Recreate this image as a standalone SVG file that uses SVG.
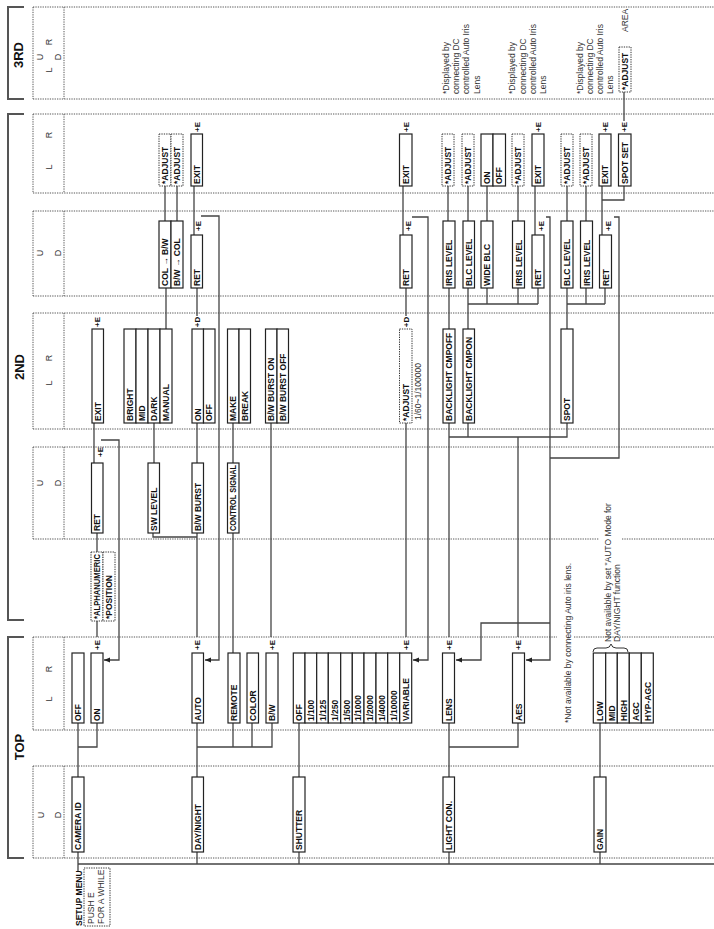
<svg xmlns="http://www.w3.org/2000/svg" width="714" height="929" viewBox="0 0 714 929">
<defs>
<marker id="ah" viewBox="0 0 6 6" refX="6" refY="3" markerWidth="6" markerHeight="6" markerUnits="userSpaceOnUse" orient="auto"><path d="M0,0.6 L6,3 L0,5.4 z" fill="#222"/></marker>
</defs>
<style>
.bx{fill:#fff;stroke:#222;stroke-width:1.2}
.dx{fill:#fff;stroke:#333;stroke-width:1;stroke-dasharray:1.3 1.1}
.t{font-family:"Liberation Sans",Arial,sans-serif;font-weight:bold;font-size:8.5px;fill:#111}
.n{font-family:"Liberation Sans",Arial,sans-serif;font-size:8.5px;fill:#333}
.lbl{font-family:"Liberation Sans",Arial,sans-serif;font-size:9px;fill:#333;text-anchor:middle}
.hd{font-family:"Liberation Sans",Arial,sans-serif;font-weight:bold;font-size:13px;fill:#111;text-anchor:middle}
.pe{font-family:"Liberation Sans",Arial,sans-serif;font-weight:bold;font-size:8px;fill:#111;text-anchor:middle}
.br{fill:none;stroke:#555;stroke-width:2}
.dl{fill:none;stroke:#444;stroke-width:0.9;stroke-dasharray:1.3 1.1}
.c{fill:none;stroke:#444;stroke-width:1.3}
</style>
<rect width="714" height="929" fill="#fff"/>

<g id="headers">
<path class="br" d="M24,7H8V99H24M24,114H8V620H24M24,637H8V858H24"/>
<text class="hd" transform="translate(23,55) rotate(-90)">3RD</text>
<text class="hd" transform="translate(24,367) rotate(-90)">2ND</text>
<text class="hd" transform="translate(24,747) rotate(-90)">TOP</text>
</g>

<g id="bands" class="dl">
<path d="M33,7H714M33,99H714M33,7V99M64,7V99"/>
<path d="M33,114H714M33,193H714M33,114V193M64,114V193"/>
<path d="M33,211H714M33,296H714M33,211V296M64,211V296"/>
<path d="M33,313H714M33,429H714M33,313V429M64,313V429"/>
<path d="M33,447H714M33,539H599M622,539H714M33,447V539M64,447V539"/>
<path d="M33,637H557M574,637H714M33,730H714M33,637V730M64,637V730"/>
<path d="M33,766H714M33,858H714M33,766V858M64,766V858"/>
</g>

<g id="band-labels" class="lbl">
<text transform="translate(43,57) rotate(-90)">U</text>
<text transform="translate(61,57) rotate(-90)">D</text>
<text transform="translate(52,42) rotate(-90)">R</text>
<text transform="translate(52,70) rotate(-90)">L</text>
<text transform="translate(52,135) rotate(-90)">R</text>
<text transform="translate(52,167) rotate(-90)">L</text>
<text transform="translate(43,253) rotate(-90)">U</text>
<text transform="translate(61,253) rotate(-90)">D</text>
<text transform="translate(52,358) rotate(-90)">R</text>
<text transform="translate(52,383) rotate(-90)">L</text>
<text transform="translate(43,483) rotate(-90)">U</text>
<text transform="translate(61,483) rotate(-90)">D</text>
<text transform="translate(52,669) rotate(-90)">R</text>
<text transform="translate(52,699) rotate(-90)">L</text>
<text transform="translate(44,815) rotate(-90)">U</text>
<text transform="translate(61,815) rotate(-90)">D</text>
</g>

<g id="connectors" class="c">
<path d="M78,852V872M78,864H714"/>
<path d="M197,852V864M299,852V864M449,852V864M600,852V864"/>
<path d="M78,777V723M78,747H97V723"/>
<path d="M197,777V723M197,747H272V723M233,747V723M252,747V723"/>
<path d="M299,777V723"/>
<path d="M449,777V723M449,747H518V723"/>
<path d="M600,777V723"/>
<path d="M97,637V621M97,552V533"/>
<path d="M197,637V533M153,533V537H197"/>
<path d="M233,653V533"/>
<path d="M271,637V423"/>
<path d="M406,637V423"/>
<path d="M449,637V423"/>
<path d="M518,637V437M449,437H567V423M468,423V437"/>
<path d="M94,423V463M154,423V463M197,423V463M233,423V463"/>
<path d="M166,329V288M197,288V316M406,288V316M449,288V329M468,288V329"/>
<path d="M468,304H538M487,288V304M518,288V304M538,288V304"/>
<path d="M567,329V288M567,304H605M586,288V304M605,288V304"/>
<path d="M165,221V186M177,221V186M448,221V186M468,221V186M487,221V186M518,221V186M567,221V186M586,221V186"/>
<path d="M194,186V235M403,186V235M535,186V235M602,186V235"/>
<path d="M624,186V200H602M624,92V121"/>
<path d="M614,217H619V458H550"/>
<path d="M201,216H219V660H205" marker-end="url(#ah)"/>
<path d="M412,217H428V660H413" marker-end="url(#ah)"/>
<path d="M546,217H550V660H526" marker-end="url(#ah)"/>
<path d="M550,623H481V660H456" marker-end="url(#ah)"/>
<path d="M101,440H119V660H104" marker-end="url(#ah)"/>
</g>

<g id="pe-labels" class="pe">
<text transform="translate(200,127) rotate(-90)">+E</text>
<text transform="translate(409,127) rotate(-90)">+E</text>
<text transform="translate(541,127) rotate(-90)">+E</text>
<text transform="translate(608,127) rotate(-90)">+E</text>
<text transform="translate(627,127) rotate(-90)">+E</text>
<text transform="translate(201,226) rotate(-90)">+E</text>
<text transform="translate(411,226) rotate(-90)">+E</text>
<text transform="translate(544,226) rotate(-90)">+E</text>
<text transform="translate(611,226) rotate(-90)">+E</text>
<text transform="translate(100,322) rotate(-90)">+E</text>
<text transform="translate(200,322) rotate(-90)">+D</text>
<text transform="translate(409,322) rotate(-90)">+D</text>
<text transform="translate(103,452) rotate(-90)">+E</text>
<text transform="translate(100,645) rotate(-90)">+E</text>
<text transform="translate(200,645) rotate(-90)">+E</text>
<text transform="translate(275,645) rotate(-90)">+E</text>
<text transform="translate(409,645) rotate(-90)">+E</text>
<text transform="translate(452,645) rotate(-90)">+E</text>
<text transform="translate(521,645) rotate(-90)">+E</text>
</g>

<!-- 3RD -->
<g id="n-adjust-area"><rect class="dx" x="619" y="47" width="12" height="45"/><text class="t" transform="translate(628,90) rotate(-90)">*ADJUST</text><text class="n" transform="translate(628,32) rotate(-90)">AREA</text></g>
<g id="notes-3rd" class="n">
<text transform="translate(449,94) rotate(-90)">*Displayed by</text>
<text transform="translate(459,94) rotate(-90)">connecting DC</text>
<text transform="translate(469,94) rotate(-90)">controlled Auto Iris</text>
<text transform="translate(480,94) rotate(-90)">Lens</text>
<text transform="translate(515,94) rotate(-90)">*Displayed by</text>
<text transform="translate(526,94) rotate(-90)">connecting DC</text>
<text transform="translate(536,94) rotate(-90)">controlled Auto Iris</text>
<text transform="translate(546,94) rotate(-90)">Lens</text>
<text transform="translate(583,94) rotate(-90)">*Displayed by</text>
<text transform="translate(593,94) rotate(-90)">connecting DC</text>
<text transform="translate(603,94) rotate(-90)">controlled Auto Iris</text>
<text transform="translate(613,94) rotate(-90)">Lens</text>
</g>

<!-- 2ND L/R 1 -->
<g id="n-adj-a1"><rect class="dx" x="159" y="134" width="12" height="52"/><text class="t" transform="translate(168,184) rotate(-90)">*ADJUST</text></g>
<g id="n-adj-a2"><rect class="dx" x="171" y="134" width="12" height="52"/><text class="t" transform="translate(180,184) rotate(-90)">*ADJUST</text></g>
<g id="n-exit1"><rect class="bx" x="191" y="134" width="11.5" height="52"/><text class="t" transform="translate(200,184) rotate(-90)">EXIT</text></g>
<g id="n-exit2"><rect class="bx" x="399.5" y="134" width="12.5" height="52"/><text class="t" transform="translate(409,184) rotate(-90)">EXIT</text></g>
<g id="n-adj-b1"><rect class="dx" x="442" y="134" width="12" height="52"/><text class="t" transform="translate(451,184) rotate(-90)">*ADJUST</text></g>
<g id="n-adj-b2"><rect class="dx" x="462" y="134" width="12" height="52"/><text class="t" transform="translate(471,184) rotate(-90)">*ADJUST</text></g>
<g id="n-onoff1"><rect class="bx" x="481" y="134" width="12" height="52"/><rect class="bx" x="493" y="134" width="12.5" height="52"/><text class="t" transform="translate(490,184) rotate(-90)">ON</text><text class="t" transform="translate(502,184) rotate(-90)">OFF</text></g>
<g id="n-adj-c"><rect class="dx" x="512" y="134" width="12" height="52"/><text class="t" transform="translate(521,184) rotate(-90)">*ADJUST</text></g>
<g id="n-exit3"><rect class="bx" x="532" y="134" width="12" height="52"/><text class="t" transform="translate(541,184) rotate(-90)">EXIT</text></g>
<g id="n-adj-d1"><rect class="dx" x="561" y="134" width="12" height="52"/><text class="t" transform="translate(570,184) rotate(-90)">*ADJUST</text></g>
<g id="n-adj-d2"><rect class="dx" x="580" y="134" width="12" height="52"/><text class="t" transform="translate(589,184) rotate(-90)">*ADJUST</text></g>
<g id="n-exit4"><rect class="bx" x="599" y="134" width="12" height="52"/><text class="t" transform="translate(608,184) rotate(-90)">EXIT</text></g>
<g id="n-spotset"><rect class="bx" x="618.5" y="134" width="12.5" height="52"/><text class="t" transform="translate(628,184) rotate(-90)">SPOT SET</text></g>

<!-- 2ND U/D 1 -->
<g id="n-colbw"><rect class="bx" x="159" y="221" width="12" height="67"/><rect class="bx" x="171" y="221" width="12" height="67"/><text class="t" transform="translate(168,286) rotate(-90)">COL → B/W</text><text class="t" transform="translate(180,286) rotate(-90)">B/W → COL</text></g>
<g id="n-ret1"><rect class="bx" x="191" y="235" width="11.5" height="53"/><text class="t" transform="translate(200,286) rotate(-90)">RET</text></g>
<g id="n-ret2"><rect class="bx" x="400" y="235" width="12" height="53"/><text class="t" transform="translate(409,286) rotate(-90)">RET</text></g>
<g id="n-iris1"><rect class="bx" x="443" y="221" width="12" height="67"/><text class="t" transform="translate(452,286) rotate(-90)">IRIS LEVEL</text></g>
<g id="n-blc1"><rect class="bx" x="463" y="221" width="11.5" height="67"/><text class="t" transform="translate(471.5,286) rotate(-90)">BLC LEVEL</text></g>
<g id="n-wideblc"><rect class="bx" x="481" y="221" width="12" height="67"/><text class="t" transform="translate(490,286) rotate(-90)">WIDE BLC</text></g>
<g id="n-iris2"><rect class="bx" x="512.5" y="221" width="12" height="67"/><text class="t" transform="translate(521.5,286) rotate(-90)">IRIS LEVEL</text></g>
<g id="n-ret3"><rect class="bx" x="532" y="235" width="12" height="53"/><text class="t" transform="translate(541,286) rotate(-90)">RET</text></g>
<g id="n-blc2"><rect class="bx" x="561" y="221" width="12" height="67"/><text class="t" transform="translate(570,286) rotate(-90)">BLC LEVEL</text></g>
<g id="n-iris3"><rect class="bx" x="580.5" y="221" width="12" height="67"/><text class="t" transform="translate(589.5,286) rotate(-90)">IRIS LEVEL</text></g>
<g id="n-ret4"><rect class="bx" x="599.5" y="235" width="12" height="53"/><text class="t" transform="translate(608.5,286) rotate(-90)">RET</text></g>

<!-- 2ND L/R 2 -->
<g id="n-exit5"><rect class="bx" x="92" y="329" width="11.5" height="94"/><text class="t" transform="translate(100.5,421) rotate(-90)">EXIT</text></g>
<g id="n-level"><rect class="bx" x="124" y="329" width="12" height="94"/><rect class="bx" x="136" y="329" width="12" height="94"/><rect class="bx" x="148" y="329" width="12" height="94"/><rect class="bx" x="160" y="329" width="12" height="94"/><text class="t" transform="translate(133,421) rotate(-90)">BRIGHT</text><text class="t" transform="translate(145,421) rotate(-90)">MID</text><text class="t" transform="translate(157,421) rotate(-90)">DARK</text><text class="t" transform="translate(169,421) rotate(-90)">MANUAL</text></g>
<g id="n-onoff2"><rect class="bx" x="192" y="329" width="11.5" height="94"/><rect class="bx" x="203.5" y="329" width="11.5" height="94"/><text class="t" transform="translate(200.5,421) rotate(-90)">ON</text><text class="t" transform="translate(212,421) rotate(-90)">OFF</text></g>
<g id="n-makebreak"><rect class="bx" x="227.5" y="329" width="11.5" height="94"/><rect class="bx" x="239" y="329" width="11.5" height="94"/><text class="t" transform="translate(236,421) rotate(-90)">MAKE</text><text class="t" transform="translate(247.5,421) rotate(-90)">BREAK</text></g>
<g id="n-bwburst-onoff"><rect class="bx" x="265.5" y="329" width="11.5" height="94"/><rect class="bx" x="277" y="329" width="11.5" height="94"/><text class="t" transform="translate(274,421) rotate(-90)">B/W BURST ON</text><text class="t" transform="translate(285.5,421) rotate(-90)">B/W BURST OFF</text></g>
<g id="n-adj-shutter"><rect class="dx" x="399.5" y="329" width="12.5" height="94"/><text class="t" transform="translate(409,421) rotate(-90)">*ADJUST</text><text class="n" transform="translate(421,420) rotate(-90)">1/60~1/100000</text></g>
<g id="n-blcoff"><rect class="bx" x="443" y="329" width="12" height="94"/><text class="t" transform="translate(452,421) rotate(-90)">BACKLIGHT CMPOFF</text></g>
<g id="n-blcon"><rect class="bx" x="463" y="329" width="11.5" height="94"/><text class="t" transform="translate(471.5,421) rotate(-90)">BACKLIGHT CMPON</text></g>
<g id="n-spot"><rect class="bx" x="561" y="329" width="12" height="94"/><text class="t" transform="translate(570,421) rotate(-90)">SPOT</text></g>

<!-- 2ND U/D 2 -->
<g id="n-ret5"><rect class="bx" x="91.5" y="463" width="11.5" height="70"/><text class="t" transform="translate(100,531) rotate(-90)">RET</text></g>
<g id="n-swlevel"><rect class="bx" x="148" y="463" width="11.5" height="70"/><text class="t" transform="translate(156.5,531) rotate(-90)">SW LEVEL</text></g>
<g id="n-bwburst"><rect class="bx" x="192" y="463" width="11.5" height="70"/><text class="t" transform="translate(200.5,531) rotate(-90)">B/W BURST</text></g>
<g id="n-control"><rect class="bx" x="227.5" y="463" width="11.5" height="70"/><text class="t" transform="translate(236,531) rotate(-90)" textLength="66" lengthAdjust="spacingAndGlyphs">CONTROL SIGNAL</text></g>
<g id="n-alpha"><rect class="dx" x="91" y="552" width="12" height="69"/><rect class="dx" x="103" y="552" width="12" height="69"/><text class="t" transform="translate(100,619) rotate(-90)" textLength="65" lengthAdjust="spacingAndGlyphs">*ALPHANUMERIC</text><text class="t" transform="translate(112,619) rotate(-90)">*POSITION</text></g>

<!-- notes -->
<g id="notes-top" class="n">
<text transform="translate(571,723) rotate(-90)">*Not available by connecting Auto iris lens.</text>
<text transform="translate(611,642) rotate(-90)">Not available by set "AUTO Mode for</text>
<text transform="translate(620,642) rotate(-90)">DAY/NIGHT function</text>
<path d="M593,652Q593,648 597,648H606Q610,648 611,644Q612,648 616,648H624Q628,648 628,652" fill="none" stroke="#333" stroke-width="1"/>
</g>

<!-- TOP L/R -->
<g id="n-offon"><rect class="bx" x="72" y="653" width="12" height="70"/><rect class="bx" x="91" y="653" width="12" height="70"/><text class="t" transform="translate(81,721) rotate(-90)">OFF</text><text class="t" transform="translate(100,721) rotate(-90)">ON</text></g>
<g id="n-auto"><rect class="bx" x="192" y="653" width="11.5" height="70"/><text class="t" transform="translate(200.5,721) rotate(-90)">AUTO</text></g>
<g id="n-remote"><rect class="bx" x="228" y="653" width="12" height="70"/><text class="t" transform="translate(237,721) rotate(-90)">REMOTE</text></g>
<g id="n-color"><rect class="bx" x="247" y="653" width="11.5" height="70"/><text class="t" transform="translate(255.5,721) rotate(-90)">COLOR</text></g>
<g id="n-bw"><rect class="bx" x="266" y="653" width="12" height="70"/><text class="t" transform="translate(275,721) rotate(-90)">B/W</text></g>
<g id="n-shutter-values">
<rect class="bx" x="293.3" y="653" width="11.7" height="70"/><rect class="bx" x="305" y="653" width="11.7" height="70"/><rect class="bx" x="316.7" y="653" width="11.6" height="70"/><rect class="bx" x="328.3" y="653" width="12.4" height="70"/><rect class="bx" x="340.7" y="653" width="11.6" height="70"/><rect class="bx" x="352.3" y="653" width="11.7" height="70"/><rect class="bx" x="364" y="653" width="12" height="70"/><rect class="bx" x="376" y="653" width="11.7" height="70"/><rect class="bx" x="387.7" y="653" width="12" height="70"/><rect class="bx" x="399.7" y="653" width="12" height="70"/>
<text class="t" transform="translate(302,721) rotate(-90)">OFF</text>
<text class="t" transform="translate(314,721) rotate(-90)">1/100</text>
<text class="t" transform="translate(325.5,721) rotate(-90)">1/125</text>
<text class="t" transform="translate(337.5,721) rotate(-90)">1/250</text>
<text class="t" transform="translate(349.5,721) rotate(-90)">1/500</text>
<text class="t" transform="translate(361,721) rotate(-90)">1/1000</text>
<text class="t" transform="translate(373,721) rotate(-90)">1/2000</text>
<text class="t" transform="translate(385,721) rotate(-90)">1/4000</text>
<text class="t" transform="translate(396.5,721) rotate(-90)">1/10000</text>
<text class="t" transform="translate(408.5,721) rotate(-90)">VARIABLE</text>
</g>
<g id="n-lens"><rect class="bx" x="442.5" y="653" width="12" height="70"/><text class="t" transform="translate(451.5,721) rotate(-90)">LENS</text></g>
<g id="n-aes"><rect class="bx" x="512.5" y="653" width="12" height="70"/><text class="t" transform="translate(521.5,721) rotate(-90)">AES</text></g>
<g id="n-gain-values">
<rect class="bx" x="593.3" y="653" width="12.4" height="70"/><rect class="bx" x="605.7" y="653" width="11.6" height="70"/><rect class="bx" x="617.3" y="653" width="12" height="70"/><rect class="bx" x="629.3" y="653" width="12" height="70"/><rect class="bx" x="641.3" y="653" width="12" height="70"/>
<text class="t" transform="translate(602.5,721) rotate(-90)">LOW</text>
<text class="t" transform="translate(614.5,721) rotate(-90)">MID</text>
<text class="t" transform="translate(626.5,721) rotate(-90)">HIGH</text>
<text class="t" transform="translate(638.5,721) rotate(-90)">AGC</text>
<text class="t" transform="translate(650.5,721) rotate(-90)">HYP-AGC</text>
</g>

<!-- TOP U/D -->
<g id="n-cameraid"><rect class="bx" x="72" y="777" width="12" height="75"/><text class="t" transform="translate(81,850) rotate(-90)">CAMERA ID</text></g>
<g id="n-daynight"><rect class="bx" x="192" y="777" width="11.5" height="75"/><text class="t" transform="translate(200.5,850) rotate(-90)">DAY/NIGHT</text></g>
<g id="n-shutter"><rect class="bx" x="293" y="777" width="12" height="75"/><text class="t" transform="translate(302,850) rotate(-90)">SHUTTER</text></g>
<g id="n-lightcon"><rect class="bx" x="443" y="777" width="11.5" height="75"/><text class="t" transform="translate(451.5,850) rotate(-90)">LIGHT CON.</text></g>
<g id="n-gain"><rect class="bx" x="594" y="777" width="12" height="75"/><text class="t" transform="translate(603,850) rotate(-90)">GAIN</text></g>

<g id="n-setup">
<text class="t" transform="translate(82,926) rotate(-90)">SETUP MENU</text>
<rect class="dx" x="84" y="868" width="26" height="58"/>
<text class="n" transform="translate(94,924) rotate(-90)">PUSH E</text>
<text class="n" transform="translate(104,924) rotate(-90)">FOR A WHILE</text>
</g>
</svg>
